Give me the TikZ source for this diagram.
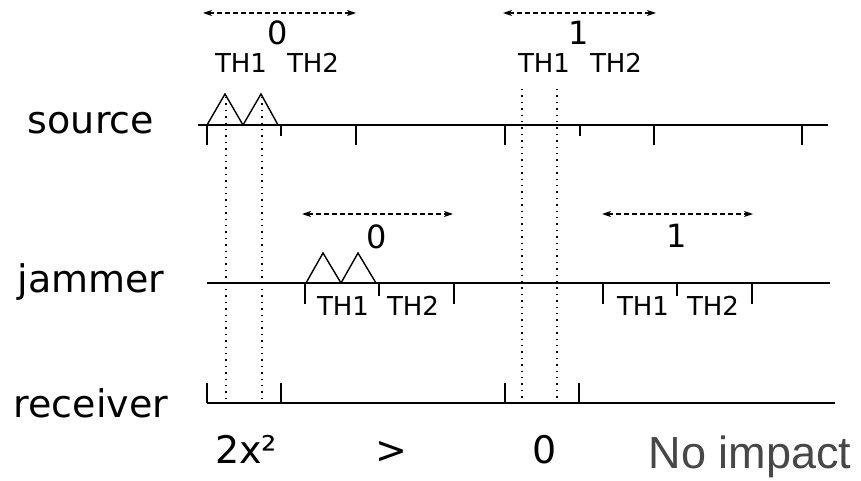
\documentclass[tikz,border=0pt]{standalone}
\usepackage{fontspec}
\setmainfont{DejaVu Sans}
\newfontfamily\impactfont{Liberation Sans}
\usetikzlibrary{arrows.meta}

\begin{document}
\begin{tikzpicture}[x=1pt,y=-1pt,
  timeline/.style={line width=1.4pt},
  marker/.style={line width=1.3pt, dash pattern=on 1.4pt off 5pt},
  span/.style={line width=1.2pt, dash pattern=on 5pt off 3pt,
    {Stealth[length=9pt,width=6pt,inset=2.5pt]}-{Stealth[length=9pt,width=6pt,inset=2.5pt]}},
  rowlabel/.style={anchor=base, font=\fontsize{38}{40}\selectfont},
  slotlabel/.style={anchor=base, font=\fontsize{26}{28}\selectfont},
  framelabel/.style={anchor=base, font=\fontsize{32}{34}\selectfont}]

\useasboundingbox (0,0) rectangle (861,481);

% Row heights
\def\ysrc{125}
\def\yjam{283}
\def\yrcv{403}

% Row labels
\node[rowlabel] (src) at (91,134) {source};
\node[rowlabel] (jam) at (91,292) {jammer};
\node[rowlabel] (rcv) at (91,417) {receiver};

% Source timeline with ticks and two pulses
\draw[timeline] (198,\ysrc) -- (828,\ysrc);
\foreach \x in {207,356,505,654,802}
  \draw[timeline] (\x,\ysrc) -- (\x,145);
\foreach \x in {281,580}
  \draw[timeline] (\x,\ysrc) -- (\x,136);
\draw[timeline] (207,\ysrc) -- (225,94) -- (243,\ysrc) -- (261,94) -- (278,\ysrc);

% Source frame labels
\coordinate (s0l) at (203,13);
\coordinate (s0r) at (356,13);
\coordinate (s1l) at (503,13);
\coordinate (s1r) at (656,13);
\draw[span] (s0l) -- (s0r);
\draw[span] (s1l) -- (s1r);
\node[framelabel] (sf0) at (278,45) {0};
\node[framelabel] (sf1) at (579,45) {1};
\node[slotlabel] (sa1) at (241,73) {TH1};
\node[slotlabel] (sa2) at (313,73) {TH2};
\node[slotlabel] (sb1) at (544,73) {TH1};
\node[slotlabel] (sb2) at (616,73) {TH2};

% Jammer timeline with ticks and two pulses
\draw[timeline] (207,\yjam) -- (830,\yjam);
\foreach \x in {305,454,603,752}
  \draw[timeline] (\x,\yjam) -- (\x,304);
\foreach \x in {379,677}
  \draw[timeline] (\x,\yjam) -- (\x,296);
\draw[timeline] (306,\yjam) -- (323,253) -- (341,\yjam) -- (358,253) -- (376,\yjam);

% Jammer frame labels
\coordinate (j0l) at (302,214);
\coordinate (j0r) at (453,214);
\coordinate (j1l) at (602,214);
\coordinate (j1r) at (753,214);
\draw[span] (j0l) -- (j0r);
\draw[span] (j1l) -- (j1r);
\node[framelabel] (jf0) at (377,248) {0};
\node[framelabel] (jf1) at (677,247) {1};
\node[slotlabel] (ja1) at (343,315) {TH1};
\node[slotlabel] (ja2) at (413,315) {TH2};
\node[slotlabel] (jb1) at (643,315) {TH1};
\node[slotlabel] (jb2) at (713,315) {TH2};

% Receiver timeline with ticks
\draw[timeline] (207,\yrcv) -- (835,\yrcv);
\foreach \x in {207,281,505,579}
  \draw[timeline] (\x,\yrcv) -- (\x,383);

% Dotted markers down to the receiver
\foreach \x in {226,262}
  \draw[marker] (\x,97) -- (\x,\yrcv);
\foreach \x in {522,557}
  \draw[marker] (\x,89) -- (\x,\yrcv);

% Result row
\node[rowlabel] (r1) at (246,463) {2x²};
\node[rowlabel] (r2) at (391,463) {>};
\node[rowlabel] (r3) at (545,463) {0};
\node[anchor=base, text=black!72, font=\impactfont\fontsize{45}{48}\selectfont] (r4) at (750,468) {No impact};

\end{tikzpicture}
\end{document}
